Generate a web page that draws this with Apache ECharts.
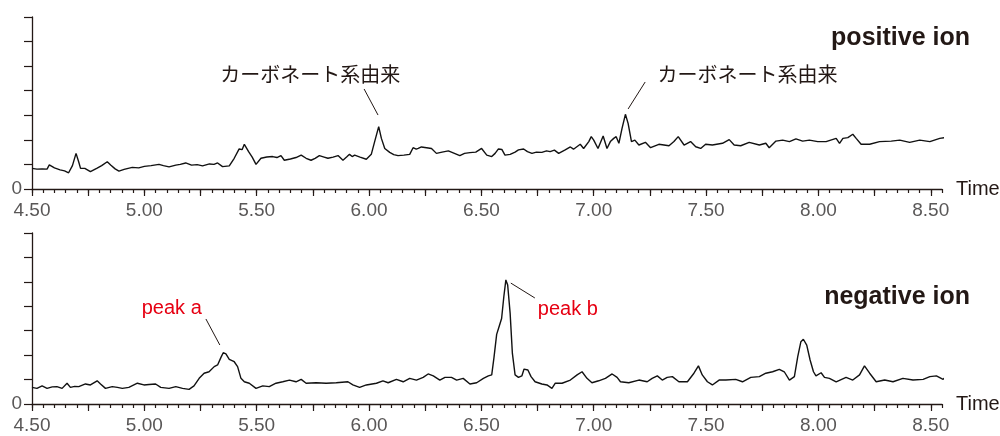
<!DOCTYPE html>
<html>
<head>
<meta charset="utf-8">
<script src="https://cdn.jsdelivr.net/npm/echarts@6/dist/echarts.min.js"></script>
<style>
html,body{margin:0;padding:0;background:#fff;}
#chart{width:1000px;height:436px;}
</style>
</head>
<body>
<div id="chart"></div>
<script>
// ---- data (retention time in min, signal in arbitrary units) ----
const posTime = [4.500,4.522,4.545,4.567,4.577,4.600,4.625,4.645,4.663,4.680,4.696,4.708,4.716,4.735,4.760,4.790,4.810,4.835,4.850,4.870,4.887,4.910,4.946,4.975,5.000,5.030,5.065,5.085,5.110,5.140,5.160,5.184,5.210,5.235,5.259,5.290,5.310,5.326,5.348,5.378,5.400,5.422,5.435,5.445,5.464,5.480,5.497,5.519,5.545,5.571,5.590,5.608,5.623,5.650,5.675,5.698,5.720,5.742,5.760,5.779,5.800,5.817,5.840,5.862,5.884,5.900,5.913,5.925,5.936,5.960,5.988,6.010,6.025,6.043,6.055,6.070,6.092,6.110,6.129,6.155,6.181,6.196,6.210,6.219,6.233,6.256,6.278,6.300,6.325,6.353,6.380,6.404,6.425,6.449,6.475,6.501,6.524,6.546,6.561,6.576,6.591,6.605,6.628,6.650,6.665,6.688,6.705,6.725,6.745,6.769,6.790,6.806,6.825,6.844,6.873,6.896,6.910,6.918,6.940,6.955,6.978,6.989,7.000,7.019,7.042,7.059,7.074,7.089,7.100,7.112,7.126,7.141,7.153,7.168,7.183,7.201,7.230,7.253,7.290,7.335,7.357,7.376,7.402,7.431,7.454,7.476,7.498,7.528,7.573,7.603,7.625,7.654,7.692,7.737,7.766,7.781,7.811,7.841,7.871,7.900,7.930,7.960,7.997,8.034,8.079,8.094,8.109,8.131,8.153,8.168,8.190,8.228,8.272,8.324,8.362,8.406,8.451,8.496,8.540,8.562,8.592,8.612];
const posSignal = [0.84,0.81,0.82,0.81,0.98,0.86,0.78,0.74,0.66,0.95,1.45,1.10,0.84,0.84,0.71,0.85,0.95,1.11,0.98,0.82,0.73,0.80,0.88,0.86,0.92,0.95,1.00,0.95,0.90,0.97,1.00,1.06,0.97,0.99,0.94,1.02,1.00,1.06,0.91,0.94,1.25,1.63,1.60,1.82,1.52,1.30,1.00,1.25,1.30,1.32,1.28,1.36,1.17,1.22,1.28,1.38,1.25,1.17,1.25,1.36,1.30,1.25,1.30,1.36,1.17,1.30,1.41,1.32,1.38,1.30,1.21,1.41,1.93,2.54,2.06,1.65,1.49,1.40,1.36,1.38,1.41,1.68,1.62,1.65,1.71,1.68,1.65,1.45,1.50,1.55,1.45,1.36,1.45,1.48,1.50,1.65,1.38,1.32,1.45,1.63,1.61,1.38,1.41,1.50,1.59,1.63,1.52,1.45,1.50,1.49,1.55,1.52,1.58,1.45,1.59,1.71,1.62,1.65,1.82,1.65,1.93,2.13,1.99,1.65,2.16,1.65,1.93,2.06,2.13,1.86,2.47,3.04,2.67,1.93,1.99,1.79,1.90,1.68,1.82,1.76,1.93,2.13,1.79,1.93,1.72,1.65,1.82,1.79,1.86,2.01,1.79,1.76,1.90,1.79,1.86,1.68,1.95,1.99,1.93,2.04,1.95,1.99,1.93,1.93,2.06,1.86,2.06,2.09,2.23,2.06,1.82,1.82,1.93,1.95,1.99,1.90,1.99,1.93,2.06,2.09,1.95,2.10];

const negTime = [4.500,4.522,4.545,4.567,4.590,4.611,4.634,4.656,4.671,4.690,4.708,4.738,4.760,4.790,4.805,4.827,4.857,4.880,4.902,4.931,4.969,4.998,5.021,5.050,5.073,5.110,5.140,5.170,5.199,5.221,5.244,5.266,5.288,5.311,5.326,5.341,5.351,5.363,5.378,5.400,5.415,5.430,5.445,5.467,5.497,5.527,5.556,5.586,5.616,5.646,5.675,5.698,5.720,5.765,5.809,5.854,5.906,5.928,5.958,5.988,6.033,6.062,6.085,6.122,6.152,6.181,6.211,6.241,6.263,6.286,6.315,6.338,6.367,6.390,6.419,6.449,6.479,6.509,6.531,6.546,6.556,6.568,6.580,6.590,6.600,6.609,6.617,6.628,6.638,6.650,6.665,6.680,6.690,6.707,6.721,6.739,6.769,6.792,6.814,6.829,6.859,6.896,6.926,6.948,6.970,6.992,7.022,7.052,7.082,7.104,7.119,7.156,7.201,7.238,7.260,7.283,7.305,7.327,7.350,7.379,7.417,7.446,7.466,7.483,7.506,7.528,7.558,7.588,7.632,7.662,7.699,7.737,7.766,7.796,7.826,7.848,7.871,7.893,7.908,7.922,7.933,7.948,7.963,7.978,7.989,8.012,8.027,8.049,8.079,8.123,8.153,8.183,8.205,8.228,8.257,8.295,8.332,8.376,8.421,8.466,8.496,8.525,8.555,8.570,8.596];
const negSignal = [0.68,0.64,0.74,0.64,0.70,0.71,0.64,0.85,0.68,0.72,0.71,0.82,0.78,0.95,0.82,0.64,0.71,0.68,0.64,0.68,0.85,0.78,0.80,0.82,0.68,0.64,0.71,0.64,0.60,0.74,1.05,1.26,1.32,1.53,1.60,1.91,2.10,2.05,1.83,1.73,1.53,1.05,0.91,0.85,0.64,0.74,0.71,0.85,0.91,0.98,0.91,1.01,0.85,0.87,0.85,0.87,0.91,0.78,0.68,0.78,0.85,0.95,0.87,1.01,0.91,1.05,0.98,1.09,1.23,1.15,0.98,1.09,1.09,0.98,1.05,0.82,0.87,1.05,1.15,1.19,1.90,2.85,3.20,3.50,4.40,5.08,4.87,3.71,2.07,1.19,1.09,1.15,1.43,1.39,1.12,0.91,0.82,0.78,0.64,0.85,0.85,0.98,1.19,1.32,1.05,0.87,0.95,1.05,1.23,1.09,0.91,0.87,0.98,0.91,1.05,1.15,0.98,1.09,1.12,0.91,0.91,1.26,1.56,1.19,0.91,0.78,0.98,0.98,1.01,0.91,1.09,1.12,1.26,1.32,1.42,1.32,0.98,1.12,1.94,2.55,2.65,2.41,1.80,1.32,1.15,1.28,1.09,1.05,0.91,1.09,0.98,1.19,1.56,1.26,0.91,0.98,0.91,1.05,0.98,1.01,1.12,1.15,1.01,1.15,1.08];

// ---- axis ticks / labels ----
const xMajorTicks = [4.5,4.75,5.0,5.25,5.5,5.75,6.0,6.25,6.5,6.75,7.0,7.25,7.5,7.75,8.0,8.25,8.5];
const xLabelValues = [4.5,5.0,5.5,6.0,6.5,7.0,7.5,8.0,8.5];
const yLabelValues = [0];
const xMin = 4.5, xMax = 8.55, xMinorStep = 0.05;
const yMin = 0, yMax = 7, yStep = 1;

// ---- annotations ----
const posNote = 'カーボネート系由来';
const posNotes = [ {text: posNote, at: [5.738, 4.68], line: [[5.978, 4.07], [6.040, 3.01]]},
                   {text: posNote, at: [7.684, 4.68], line: [[7.229, 4.355], [7.153, 3.256]]} ];
const negNotes = [ {text: 'peak a', at: [5.122, 3.93], line: [[5.274, 3.48], [5.336, 2.415]]},
                   {text: 'peak b', at: [6.885, 3.85], line: [[6.631, 4.95], [6.738, 4.34]]} ];
const panelTitles = ['positive ion', 'negative ion'];

const ink = '#231815';
const labelGray = '#595757';
const font = '"Liberation Sans", Arial, Helvetica, sans-serif';

function zip(a, b) { return a.map((v, i) => [v, b[i]]); }

function minorX(grid, withName) {
  return {
    type: 'value', gridIndex: grid, position: 'bottom', min: xMin, max: xMax, interval: xMinorStep,
    axisLine: {show: true, onZero: false, lineStyle: {color: ink, width: 1.3}},
    axisTick: {show: true, length: 4, lineStyle: {color: ink, width: 1.2}},
    axisLabel: {show: false},
    splitLine: {show: false},
    name: withName ? 'Time' : '',
    nameLocation: 'end', nameGap: 14,
    nameTextStyle: {fontFamily: font, fontSize: 20, color: ink, verticalAlign: 'middle'}
  };
}
function majorX(grid) {
  return {
    type: 'value', gridIndex: grid, position: 'bottom', min: xMin, max: xMax,
    axisLine: {show: false, onZero: false},
    axisTick: {show: true, length: 7, customValues: xMajorTicks, lineStyle: {color: ink, width: 1.2}},
    axisLabel: {show: true, customValues: xLabelValues, margin: 12,
      formatter: v => Number(v).toFixed(2),
      fontFamily: font, fontSize: 19, color: labelGray},
    splitLine: {show: false}
  };
}
function yAx(grid) {
  return {
    type: 'value', gridIndex: grid, position: 'left', min: yMin, max: yMax, interval: yStep,
    axisLine: {show: true, onZero: false, lineStyle: {color: ink, width: 1.3}},
    axisTick: {show: true, length: 8, lineStyle: {color: ink, width: 1.2}},
    axisLabel: {show: true, margin: 10,
      formatter: v => (yLabelValues.indexOf(v) >= 0 ? String(v) : ''),
      fontFamily: font, fontSize: 19, color: labelGray},
    splitLine: {show: false}
  };
}
function notesMarks(notes, color) {
  return {
    markLine: {
      silent: true, symbol: ['none', 'none'], animation: false,
      lineStyle: {color: ink, width: 1, type: 'solid'},
      label: {show: false},
      data: notes.map(n => [{coord: n.line[0]}, {coord: n.line[1]}])
    },
    markPoint: {
      silent: true, symbol: 'circle', symbolSize: 0, animation: false,
      label: {show: true, position: 'inside', color: color, fontSize: 20,
        fontFamily: color === ink ? '"Noto Sans CJK JP", sans-serif' : font},
      data: notes.map(n => ({coord: n.at, value: n.text, label: {formatter: n.text}}))
    }
  };
}

const chart = echarts.init(document.getElementById('chart'), null, {renderer: 'canvas'});
chart.setOption({
  animation: false,
  backgroundColor: '#ffffff',
  title: [
    {text: panelTitles[0], right: 25, top: 21, textStyle: {fontFamily: font, fontSize: 25, fontWeight: 'bold', color: ink}},
    {text: panelTitles[1], right: 25, top: 280, textStyle: {fontFamily: font, fontSize: 25, fontWeight: 'bold', color: ink}}
  ],
  grid: [
    {left: 32, right: 58, top: 17, height: 172, containLabel: false, outerBoundsMode: 'none'},
    {left: 32, right: 58, top: 233, height: 171, containLabel: false, outerBoundsMode: 'none'}
  ],
  xAxis: [minorX(0, true), majorX(0), minorX(1, true), majorX(1)],
  yAxis: [yAx(0), yAx(1)],
  series: [
    Object.assign({
      type: 'line', xAxisIndex: 0, yAxisIndex: 0, data: zip(posTime, posSignal),
      showSymbol: false, clip: false, smooth: false,
      lineStyle: {color: '#111', width: 1.4}
    }, notesMarks(posNotes, ink)),
    Object.assign({
      type: 'line', xAxisIndex: 2, yAxisIndex: 1, data: zip(negTime, negSignal),
      showSymbol: false, clip: false, smooth: false,
      lineStyle: {color: '#111', width: 1.4}
    }, notesMarks(negNotes, '#e60012'))
  ]
});
</script>
</body>
</html>
